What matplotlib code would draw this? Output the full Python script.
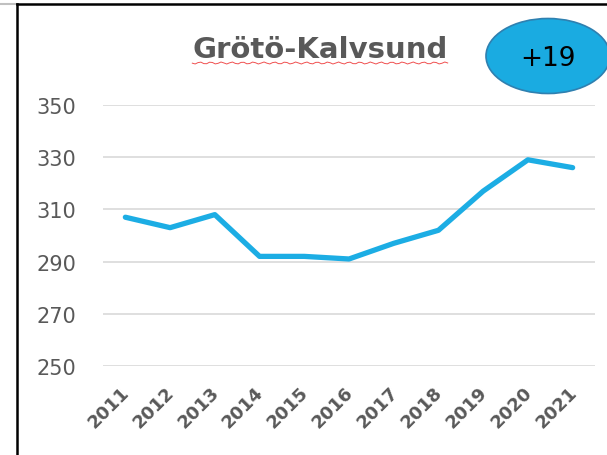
import numpy as np
import matplotlib.pyplot as plt
import matplotlib.transforms as mtransforms
from matplotlib.patches import Ellipse
from matplotlib.lines import Line2D

years = ["2011", "2012", "2013", "2014", "2015", "2016",
         "2017", "2018", "2019", "2020", "2021"]
values = [307, 303, 308, 292, 292, 291, 297, 302, 317, 329, 326]
yticks = [250, 270, 290, 310, 330, 350]
title = "Grötö-Kalvsund"
badge = "+19"

W, H = 607, 456
fig = plt.figure(figsize=(W / 100, H / 100), dpi=100)
ax = fig.add_axes([103 / W, 1 - 367 / H, (595 - 103) / W, (367 - 106) / H])

x = np.arange(len(years))
ax.plot(x, values, color="#1CADE4", lw=3.8, solid_joinstyle="round",
        solid_capstyle="round", zorder=3)
ax.set_xlim(-0.5, len(years) - 0.5)
ax.set_ylim(250, 350)
ax.set_yticks(yticks)
ax.set_xticks(x)
ax.set_xticklabels(years, rotation=45, ha="right", va="top",
                   rotation_mode="anchor", fontweight="bold", fontsize=13,
                   color="#595959")
ax.tick_params(axis="y", labelsize=15, labelcolor="#595959", length=0, pad=19)
ax.tick_params(axis="x", length=0, pad=13)
shift = mtransforms.ScaledTranslation(-5 / 100, 1 / 100, fig.dpi_scale_trans)
for lab in ax.get_xticklabels():
    lab.set_transform(lab.get_transform() + shift)
ax.grid(axis="y", color="#D9D9D9", lw=1.2)
ax.set_axisbelow(True)
for s in ax.spines.values():
    s.set_visible(False)

# title with spell-check squiggle
t = fig.text(320 / W, 1 - 50 / H, title, ha="center", va="center",
             fontsize=21, fontweight="bold", color="#595959")
fig.canvas.draw()
bb = t.get_window_extent()
xs = np.linspace(bb.x0, bb.x1, 90)
ys = (H - 64) + 1.0 * np.sin(xs * 1.6)
fig.add_artist(Line2D(xs / W, ys / H, color="#F05050", lw=0.7))

# badge
fig.add_artist(Ellipse((548 / W, 1 - 57 / H), 124 / W, 75 / H,
                       facecolor="#1AABE1", edgecolor="#2F80B0", lw=1.2))
fig.text(548 / W, 1 - 59 / H, badge, ha="center", va="center",
         fontsize=19, color="black")

# frame lines
fig.add_artist(Line2D([0, 16 / W], [1 - 4.5 / H] * 2, color="#C0C0C0", lw=1.5))
fig.add_artist(Line2D([16.5 / W, 1], [1 - 4.5 / H] * 2, color="black", lw=1.8))
fig.add_artist(Line2D([16.5 / W] * 2, [0, 1 - 4.5 / H], color="black", lw=1.8))

fig.savefig("out.png", dpi=100)
